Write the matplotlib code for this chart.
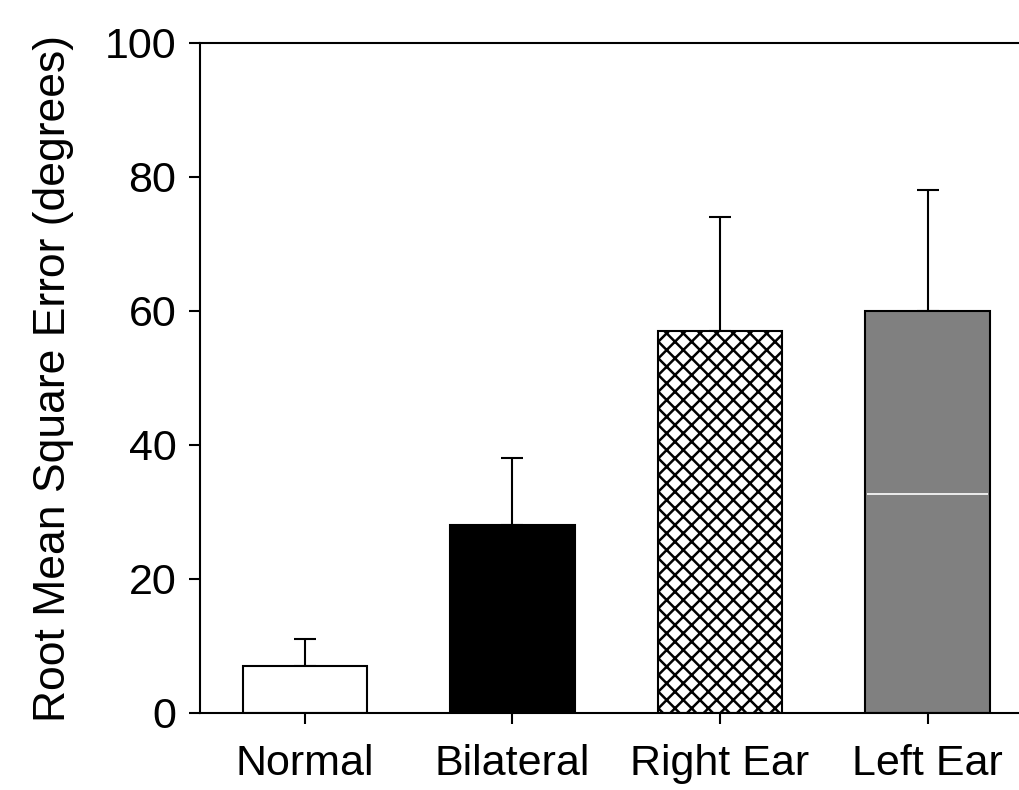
import numpy as np
import matplotlib.pyplot as plt

plt.rcParams["font.family"] = ["Liberation Sans", "DejaVu Sans"]
plt.rcParams["hatch.linewidth"] = 1.8

# data
groups = ["Normal", "Bilateral", "Right Ear", "Left Ear"]
rmse = [7, 28, 57, 60]
err_up = [4, 10, 17, 18]
left_ear_split = 32.7
colors = ["white", "black", "white", "#808080"]
hatches = ["", "", "xx", ""]

fig = plt.figure(figsize=(10.19, 7.9), dpi=100, facecolor="white")
ax = fig.add_axes([200 / 1019, 77 / 790, 819 / 1019, 670 / 790])

x = np.arange(len(groups))
bars = ax.bar(x, rmse, width=0.6, color=colors, edgecolor="black", linewidth=1.5, zorder=2)
for b, h in zip(bars, hatches):
    b.set_hatch(h)
ax.errorbar(x, rmse, yerr=[np.zeros(len(x)), err_up], fmt="none", ecolor="black",
            elinewidth=1.5, capsize=8, capthick=1.5, zorder=1)
# white line in the left ear bar
ax.hlines(left_ear_split, x[3] - 0.29, x[3] + 0.29, colors="white", linewidth=1.2, zorder=3)

ax.set_xlim(-0.505, 3.44)
ax.set_ylim(0, 100)
ax.set_yticks([0, 20, 40, 60, 80, 100])
ax.set_xticks(x)
ax.set_xticklabels(groups)
ax.tick_params(axis="both", direction="out", length=8, width=1.5, labelsize=31, pad=9)
ax.tick_params(axis="x", pad=14)
ax.spines["right"].set_visible(False)
for s in ["left", "bottom", "top"]:
    ax.spines[s].set_linewidth(1.5)
ax.set_ylabel("Root Mean Square Error (degrees)", fontsize=32, labelpad=22)

plt.savefig("out.png", dpi=100)
